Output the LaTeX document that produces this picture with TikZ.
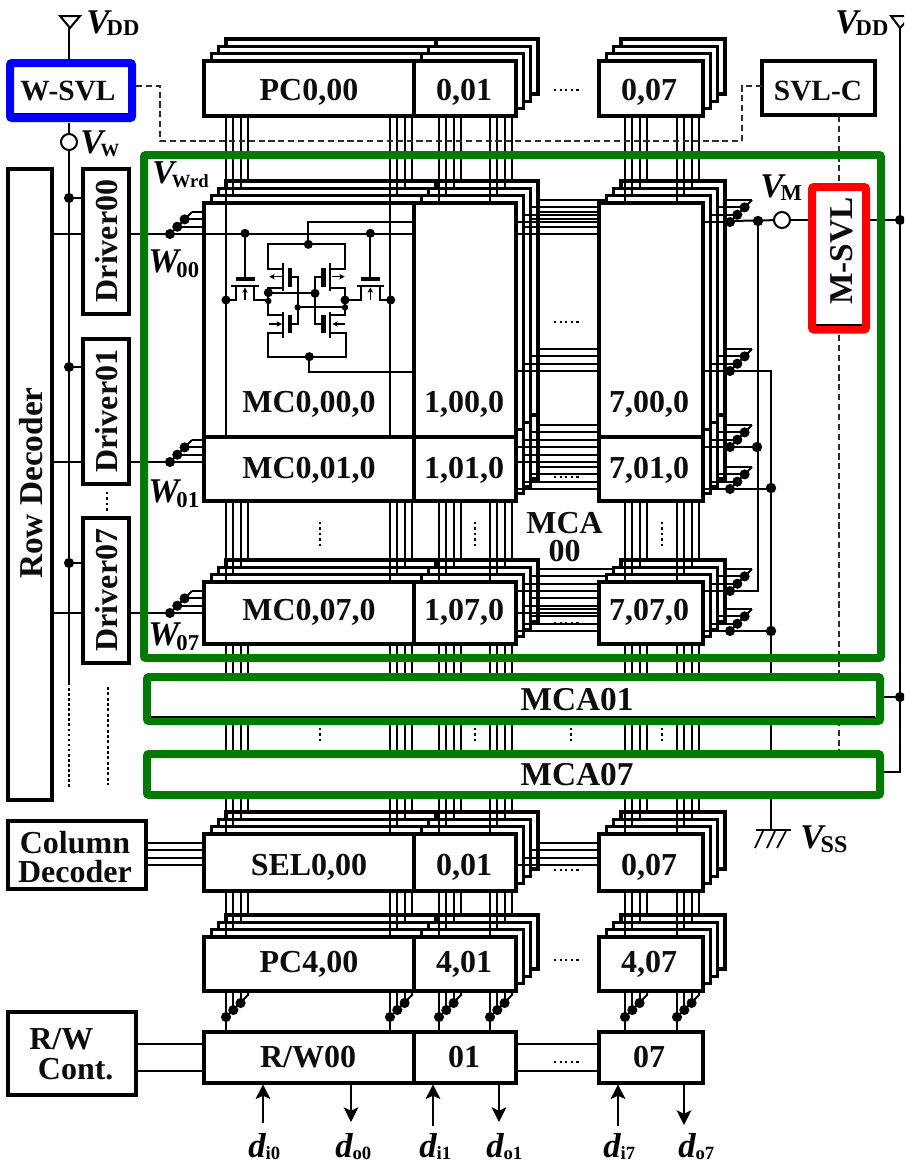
\documentclass[tikz,border=0pt]{standalone}
\usepackage{fontspec}
\setmainfont{Liberation Serif}
\usetikzlibrary{arrows.meta}
\definecolor{dgreen}{HTML}{007A00}
\definecolor{dashc}{HTML}{332A28}
\tikzset{
  box/.style={draw=black,fill=white,line width=2.5pt,inner sep=0pt,outer sep=0pt},
  stackbox/.style={draw=black,fill=white,line width=2.5pt},
  bit/.style={line width=1.5pt,draw=black},
  wire/.style={line width=1.5pt,draw=black},
  cellw/.style={line width=1.35pt,draw=black},
  lbl/.style={font=\fontsize{24}{24}\selectfont\bfseries,inner sep=0pt,text height=16pt,text depth=0pt,text=black!95},
  lblm/.style={font=\fontsize{24}{21.5}\selectfont\bfseries,inner sep=0pt,text=black!95},
  greenbox/.style={draw=dgreen,line width=6pt,rounded corners=1.5pt},
  dashw/.style={draw=dashc,line width=1.3pt,dash pattern=on 4.6pt off 2.8pt},
  vdots/.style={line width=1.5pt,dash pattern=on 1.6pt off 2.5pt},
  hdots/.style={line width=1.5pt,dash pattern=on 1.6pt off 2.6pt},
  open/.style={circle,draw=black,fill=white,line width=1.5pt,minimum size=12pt,inner sep=0pt,outer sep=0pt},
  arr/.style={line width=1.6pt,-{Stealth[length=11pt,width=11pt,inset=2.5pt]}},
  sarr/.style={line width=.9pt,-{Stealth[length=4pt,width=4pt,inset=1pt]}},
}
\newcommand\bx[6]{\node[#6,minimum width={(#4-(#2))*.75pt},minimum height={(#5-(#3))*.75pt}] (#1) at ({(#2+#4)/2},{(#3+#5)/2}) {};}
\newcommand\dotm[2]{\fill (#1,#2) circle[radius=3.8pt];}
% name, x, baseline, main, sub, main size, sub size, drop, kern
\newcommand\slab[9]{\node[anchor=base west,inner sep=0pt] (#1) at (#2,#3) {{\fontsize{#6}{#6}\selectfont\bfseries\itshape #4}\kern#9pt\raisebox{-#8pt}{\fontsize{#7}{#7}\selectfont\bfseries #5}};}
\newcommand\layerwires{%
  \foreach \xx in {226,390,439,490,625,677}{
    \foreach \ya/\yb in {116/203,501/582,644/834,891/937}{
      \draw[bit] ({\xx+\d},{\ya-\d}) -- ({\xx+\d},{\yb-\d});
    }
  }
  \foreach \yy in {222,234,371,447,462,489,591,613,631,865}{
    \draw[bit] ({516+\d},{\yy-\d}) -- ({599+\d},{\yy-\d});
  }
  \foreach \yy in {234,462,613}{
    \draw[bit] ({170+\d},{\yy-\d}) -- ({204+\d},{\yy-\d});
  }
  \foreach \yy in {222,371,447,489,591,631}{
    \draw[bit] ({703+\d},{\yy-\d}) -- ({730+\d},{\yy-\d});
  }
  \draw[bit] (146,{865-\d}) -- ({204+\d},{865-\d});
}
\newcommand\chainW[2]{%
  \draw[bit] (#1,#2) -- ({#1+22},{#2-22});
  \dotm{#1}{#2}\dotm{#1+7.3}{#2-7.3}\dotm{#1+14.6}{#2-14.6}
}
\newcommand\chainB[1]{%
  \draw[bit] (#1,991) -- (#1,1032);
  \draw[bit] ({#1+7.3},991) -- ({#1+7.3},1010);
  \draw[bit] ({#1+14.6},991) -- ({#1+14.6},1003);
  \draw[bit] ({#1+22},991) -- ({#1+22},995) -- (#1,1017);
  \dotm{#1}{1017}\dotm{#1+7.3}{1010}\dotm{#1+14.6}{1003}
}
\begin{document}
\begin{tikzpicture}[x=.75pt,y=-.75pt]
\useasboundingbox (0,0) rectangle (904,1168);
\clip (0,0) rectangle (904,1168);
% stacked layers, back to front
\foreach \k in {3,2,1}{
  \pgfmathsetmacro\d{7.3*\k}
  \foreach \ya/\yb in {61/116,203/437,437/501,582/644,834/891,937/991}{
    \foreach \xa/\xb in {204/414,414/516,599/703}{
      \draw[stackbox] ({\xa+\d},{\ya-\d}) rectangle ({\xb+\d},{\yb-\d});
    }
  }
  \layerwires
}
% front layer
\bx{pc00}{204}{61}{414}{116}{box}
\bx{pc01}{414}{61}{516}{116}{box}
\bx{pc07}{599}{61}{703}{116}{box}
\bx{mc00}{204}{203}{414}{437}{box}
\bx{mc10}{414}{203}{516}{437}{box}
\bx{mc70}{599}{203}{703}{437}{box}
\bx{mc01}{204}{437}{414}{501}{box}
\bx{mc11}{414}{437}{516}{501}{box}
\bx{mc71}{599}{437}{703}{501}{box}
\bx{mc07}{204}{582}{414}{644}{box}
\bx{mc17}{414}{582}{516}{644}{box}
\bx{mc77}{599}{582}{703}{644}{box}
\bx{sel00}{204}{834}{414}{891}{box}
\bx{sel01}{414}{834}{516}{891}{box}
\bx{sel07}{599}{834}{703}{891}{box}
\bx{pf00}{204}{937}{414}{991}{box}
\bx{pf01}{414}{937}{516}{991}{box}
\bx{pf07}{599}{937}{703}{991}{box}
\bx{rw00}{204}{1032}{414}{1083}{box}
\bx{rw01}{414}{1032}{516}{1083}{box}
\bx{rw07}{599}{1032}{703}{1083}{box}
\def\d{0}
\layerwires
\draw[bit] (226,203) -- (226,437);
\draw[bit] (390,203) -- (390,437);
\draw[bit] (204,234) -- (414,234);
% word-line and supply chains
\chainW{170}{234}\chainW{170}{462}\chainW{170}{613}
\chainW{730}{222}\chainW{730}{371}\chainW{730}{447}\chainW{730}{489}\chainW{730}{591}\chainW{730}{631}
\chainB{226}\chainB{390}\chainB{439}\chainB{490}\chainB{625}\chainB{677}
% memory cell
\begin{scope}[shift={(200,200)},x=.25pt,y=-.25pt]
  \draw[cellw] (325,133) -- (325,66) -- (636,66);
  \draw[cellw] (328,470) -- (328,515) -- (636,515);
  \draw[cellw] (135,100) -- (135,235);
  \draw[cellw] (511,100) -- (511,235);
  \fill (107,231) rectangle (164,243);
  \fill (483,231) rectangle (540,243);
  \draw[cellw] (93,258) -- (177,258);
  \draw[cellw] (470,258) -- (552,258);
  \draw[cellw] (78,300) -- (107,300) -- (107,258);
  \draw[cellw] (163,258) -- (163,300) -- (205,300);
  \draw[cellw] (572,300) -- (540,300) -- (540,258);
  \draw[cellw] (483,258) -- (483,300) -- (435,300);
  \draw[sarr] (135,300) -- (135,262);
  \draw[sarr] (511,300) -- (511,262);
  % top rail and PMOS
  \draw[cellw] (250,207) -- (205,207) -- (205,133) -- (435,133) -- (435,207) -- (390,207);
  \draw[cellw] (250,190) -- (250,272);
  \draw[cellw] (390,190) -- (390,272);
  \fill (263,205) rectangle (277,260);
  \fill (364,205) rectangle (378,260);
  \draw[cellw] (270,230) -- (293,230) -- (293,372) -- (270,372);
  \draw[cellw] (370,230) -- (345,230) -- (345,372) -- (370,372);
  \draw[cellw] (250,265) -- (205,265) -- (205,345) -- (250,345);
  \draw[cellw] (390,265) -- (435,265) -- (435,345) -- (390,345);
  \draw[cellw] (205,280) -- (345,280);
  \draw[cellw] (293,322) -- (435,322);
  \draw[sarr] (248,230) -- (208,230);
  \draw[sarr] (395,230) -- (434,230);
  \draw[sarr] (207,372) -- (246,372);
  \draw[sarr] (435,372) -- (397,372);
  % NMOS and bottom rail
  \draw[cellw] (250,335) -- (250,415);
  \draw[cellw] (390,335) -- (390,415);
  \fill (263,345) rectangle (277,400);
  \fill (364,345) rectangle (378,400);
  \draw[cellw] (250,400) -- (205,400) -- (205,470) -- (437,470) -- (437,400) -- (390,400);
  \foreach \p/\q in {135/100,511/100,325/133,78/300,572/300,205/278,345/280,435/300,328/470}{
    \fill (\p,\q) circle[radius=3.4pt];
  }
  \foreach \p/\q in {205/303,293/322,435/322}{
    \fill (\p,\q) circle[radius=2.4pt];
  }
\end{scope}
% left column
\bx{rowdec}{8}{169}{52}{800}{box}
\bx{drv0}{83}{169}{129}{314}{box}
\bx{drv1}{83}{339}{129}{484}{box}
\bx{drv7}{83}{518}{129}{663}{box}
\node[open] (vw) at (69,142) {};
\coordinate (vdl) at (69,28);
\coordinate (vwend) at (69,685);
\draw[wire] (vdl) -- (69,59);
\draw[wire] (69,123) -- (vw);
\draw[line width=1.8pt] (vw) -- (vwend);
\draw[line width=1.8pt,dash pattern=on 2pt off 1.8pt] (69,688) -- (69,787);
\draw[line width=1.8pt,dash pattern=on 2.2pt off 1.8pt] (108,687) -- (108,785);
\draw[vdots] (107,492) -- (107,511);
\draw[line width=1.5pt,line join=miter] (60,16) -- (80,16) -- (70,28) -- cycle;
\foreach \yy/\dr in {198/drv0,367/drv1,563/drv7}{
  \draw[wire] (69,\yy) -- (\dr.west |- 0,\yy);
  \fill (69,\yy) circle[radius=3.8pt];
}
\foreach \yy/\dra in {234/drv0,462/drv1,613/drv7}{
  \draw[wire] (rowdec.east |- 0,\yy) -- (\dra.west |- 0,\yy);
  \draw[wire] (\dra.east |- 0,\yy) -- (170,\yy);
}
% right-hand supply and return wires
\node[open] (vm) at (782,220) {};
\bx{svlc}{762}{61}{875}{115}{box}
\coordinate (vdr) at (900,28);
\draw[wire] (vdr) -- (900,772) -- (880,772);
\draw[wire] (880,697) -- (900,697);
\draw[wire] (730,221) -- (vm);
\draw[wire] (vm) -- (900,220);
\draw[line width=1.5pt,line join=miter] (891,16) -- (911,16) -- (900,28) -- cycle;
\dotm{900}{220}\dotm{900}{697}
\draw[wire] (730,371) -- (771,371) -- (771,830);
\draw[wire] (730,447) -- (758,447);
\draw[wire] (758,221) -- (758,591) -- (730,591);
\draw[wire] (730,489) -- (771,489);
\draw[wire] (730,631) -- (771,631);
\fill (758,221) circle[radius=3.9pt];
\fill (757,447) circle[radius=3.9pt];
\fill (771,488) circle[radius=3.9pt];
\fill (771,631) circle[radius=3.9pt];
\draw[dashw] (839,116) -- (839,187);
\draw[dashw] (839,335) -- (839,752);
\draw[wire] (756,830) -- (791,830);
\draw[line width=1.3pt] (755,848) -- (763,831) (767,848) -- (775,831) (777,848) -- (786,831);
% dashed control link
\draw[dashw] (136,86) -- (160,86) -- (160,141) -- (742,141) -- (742,86) -- (svlc.west |- 0,86);
% column decoder, R/W control
\bx{cdec}{8}{821}{146}{889}{box}
\bx{rwc}{8}{1012}{136}{1095}{box}
\coordinate (ra) at (0,1044);
\coordinate (rb) at (0,1071);
\draw[bit] (rwc.east |- ra) -- (rw00.west |- ra);
\draw[bit] (rwc.east |- rb) -- (rw00.west |- rb);
\draw[bit] (rw01.east |- ra) -- (rw07.west |- ra);
\draw[bit] (rw01.east |- rb) -- (rw07.west |- rb);
% horizontal and vertical ellipses
\foreach \yy in {90,322,477,623,870,960,1062}{
  \draw[hdots] (554,\yy) -- (582,\yy);
}
\foreach \xx in {320,475,662}{
  \draw[vdots] (\xx,522) -- (\xx,549);
  \draw[vdots] (\xx,728) -- (\xx,743);
}
\draw[vdots] (571,728) -- (571,743);
% data arrows
\coordinate (ai0) at (263,1123);
\coordinate (ao0) at (351,1122);
\coordinate (ai1) at (433,1126);
\coordinate (ao1) at (499,1122);
\coordinate (ai7) at (618,1126);
\coordinate (ao7) at (684,1125);
\draw[arr] (ai0) -- ([yshift=-1pt]rw00.south -| ai0);
\draw[arr] (rw00.south -| ao0) -- (ao0);
\draw[arr] (ai1) -- ([yshift=-1pt]rw01.south -| ai1);
\draw[arr] (rw01.south -| ao1) -- (ao1);
\draw[arr] (ai7) -- ([yshift=-1pt]rw07.south -| ai7);
\draw[arr] (rw07.south -| ao7) -- (ao7);
% big frames
\bx{mca1}{147}{677}{880}{721}{draw=dgreen,fill=white,line width=6pt,rounded corners=1.5pt,inner sep=0pt,outer sep=0pt}
\bx{mca7}{147}{754}{880}{795}{draw=dgreen,fill=white,line width=6pt,rounded corners=1.5pt,inner sep=0pt,outer sep=0pt}
\draw[line width=1pt] (151,717) -- (875,717);
\draw[greenbox] (144,155) rectangle (881,658);
\bx{wsvl}{10}{63}{132}{118}{draw=blue,fill=white,line width=6pt,rounded corners=1.5pt,inner sep=0pt,outer sep=0pt}
\draw[line width=1pt] (14,113.5) -- (128,113.5);
\bx{msvl}{812}{187}{866}{329.5}{draw=red,fill=white,line width=6pt,rounded corners=1.5pt,inner sep=0pt,outer sep=0pt}
\draw[line width=.8pt] (816,325) -- (862,325);
% box labels
\node[lbl] (t1) at (309,90) {PC0,00};
\node[lbl] (t2) at (464,90) {0,01};
\node[lbl] (t3) at (649,90) {0,07};
\node[lbl] (t4) at (309,402) {MC0,00,0};
\node[lbl] (t5) at (464,402) {1,00,0};
\node[lbl] (t6) at (649,402) {7,00,0};
\node[lbl] (t7) at (309,468) {MC0,01,0};
\node[lbl] (t8) at (464,468) {1,01,0};
\node[lbl] (t9) at (649,468) {7,01,0};
\node[lbl] (t10) at (309,610) {MC0,07,0};
\node[lbl] (t11) at (464,610) {1,07,0};
\node[lbl] (t12) at (649,610) {7,07,0};
\node[lbl] (t13) at (309,865) {SEL0,00};
\node[lbl] (t14) at (464,865) {0,01};
\node[lbl] (t15) at (649,865) {0,07};
\node[lbl] (t16) at (309,962) {PC4,00};
\node[lbl] (t17) at (464,962) {4,01};
\node[lbl] (t18) at (649,962) {4,07};
\node[lbl] (t19) at (308,1057) {R/W00};
\node[lbl] (t20) at (464,1057) {01};
\node[lbl] (t21) at (649,1057) {07};
\node[lbl,font=\fontsize{22}{22}\selectfont\bfseries] (t22) at (68,90) {W-SVL};
\node[lbl,font=\fontsize{22}{22}\selectfont\bfseries] (t23) at (818,90) {SVL-C};
\node[lbl,rotate=90,font=\fontsize{25}{25}\selectfont\bfseries] (t24) at (841.5,251) {M-SVL};
\node[lbl,rotate=90,font=\fontsize{25}{25}\selectfont\bfseries] (t25) at (32,483) {Row Decoder};
\node[lbl,rotate=90] (t26) at (106.5,241) {Driver00};
\node[lbl,rotate=90] (t27) at (106.5,411) {Driver01};
\node[lbl,rotate=90] (t28) at (106.5,590) {Driver07};
\node[lbl,font=\fontsize{25}{25}\selectfont\bfseries] (t29) at (577,700) {MCA01};
\node[lbl,font=\fontsize{25}{25}\selectfont\bfseries] (t30) at (577,775) {MCA07};
\node[lblm,align=center] (t31) at (564.5,537) {MCA\\00};
\node[lblm,align=center] (t32) at (75,857) {Column\\Decoder};
\node[lblm,align=left,anchor=west,font=\fontsize{24}{22.5}\selectfont\bfseries] (t33) at (29,1054) {R/W\\\hspace*{6.5pt}Cont.};
% symbols with subscripts
\slab{l1}{86}{33}{V}{DD}{26}{17}{1.5}{-2}
\slab{l2}{835}{33}{V}{DD}{26}{17}{1.5}{-2}
\slab{l3}{80}{153}{V}{W}{26}{14}{2.5}{-2}
\slab{l4}{152}{183}{V}{Wrd}{25}{14}{3.5}{-2}
\slab{l5}{760}{197}{V}{M}{26}{17}{2.5}{-2}
\slab{l6}{800}{848}{V}{SS}{26}{18}{3.5}{-2}
\slab{l7}{148}{272}{W}{00}{26}{17}{4}{-2}
\slab{l8}{148}{502}{W}{01}{26}{17}{4}{-2}
\slab{l9}{148}{645}{W}{07}{26}{17}{4}{-2}
\slab{l10}{248}{1157}{d}{i0}{26}{14}{2}{0}
\slab{l11}{335}{1157}{d}{o0}{26}{14}{2}{0}
\slab{l12}{419}{1157}{d}{i1}{26}{14}{2}{0}
\slab{l13}{486}{1157}{d}{o1}{26}{14}{2}{0}
\slab{l14}{603}{1157}{d}{i7}{26}{14}{2}{0}
\slab{l15}{678}{1157}{d}{o7}{26}{14}{2}{0}
\end{tikzpicture}
\end{document}
